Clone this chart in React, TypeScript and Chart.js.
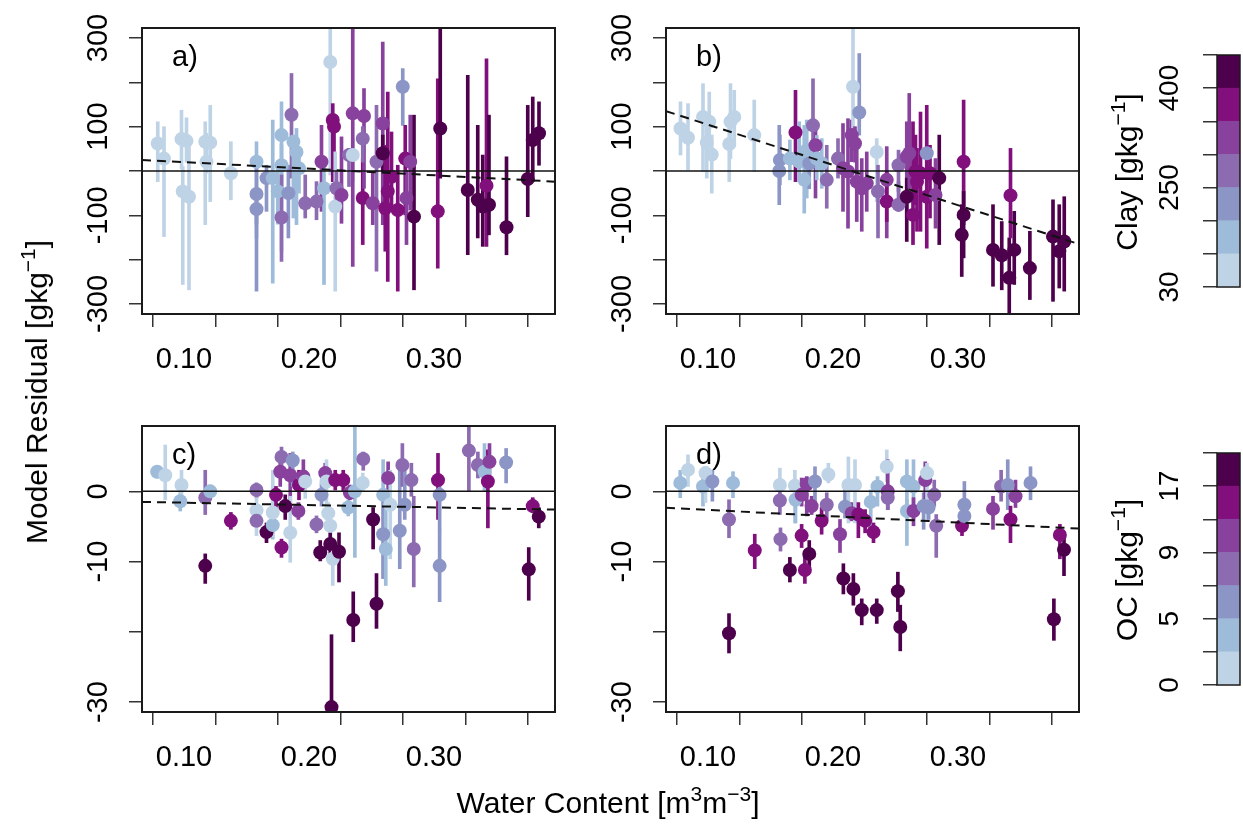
import React, { useEffect, useRef } from "react";
import { Chart, registerables } from "chart.js";
Chart.register(...registerables);

const FONT = "'Liberation Sans', Arial, Helvetica, sans-serif";
const BIN_COLORS = ["#bfd3e6", "#9ebcda", "#8c96c6", "#8c6bb1", "#88419d", "#810f7c", "#4d004b"];
const BIN_WIDTHS = [1, 1, 1, 1, 1, 1, 1];
const BAR_TICKS = [0, 1, 2, 3, 4, 5, 6, 7];
const CLAY_BAR_TICK_LABELS = ["30", "", "", "250", "", "", "400", ""];
const OC_BAR_TICK_LABELS = ["0", "", "5", "", "9", "", "17", ""];

const X_MIN = 0.0664;
const X_MAX = 0.3968;
const X_TICKS = [0.1, 0.15, 0.2, 0.25, 0.3, 0.35];
const X_TICK_LABELS = ["0.10", "", "0.20", "", "0.30", ""];

const CLAY_Y_RANGE = [-322.6, 322.6];
const CLAY_Y_TICKS = [-300, -200, -100, 0, 100, 200, 300];
const CLAY_Y_TICK_LABELS = ["-300", "", "-100", "", "100", "", "300"];
const OC_Y_RANGE = [-31.4, 9.3];
const OC_Y_TICKS = [-30, -20, -10, 0];
const OC_Y_TICK_LABELS = ["-30", "", "-10", "0"];

// Panel a) residuals vs water content, coloured by clay
const aWater = [0.079,0.084,0.098,0.099,0.102,0.104,0.117,0.118,0.121,0.1375, 0.158,0.158,0.158,0.166,0.171,0.175,0.178,0.178,0.178,0.1835, 0.186,0.1875,0.190,0.192,0.197,0.206,0.210,0.212,0.217,0.219, 0.220,0.221,0.222,0.226,0.232,0.235,0.235,0.243,0.244,0.243, 0.251,0.254,0.259,0.259,0.261,0.263,0.266,0.271,0.275,0.277, 0.278,0.281,0.284,0.303,0.305,0.327,0.335,0.339,0.342,0.344, 0.358,0.375,0.379,0.384];
const aResid = [62,28,72,-46,68,-58,66,21,64,-5, 21,-52,-86,-16,-16,-46,81,13,-105,-50, 127,66,43,6,-73,-69,21,-39,246,115, 100,-80,-39,-54,36,36,130,-61,124,73, -73,21,107,40,-84,-46,-13,-88,190,28, -61,21,-103,-91,96,-43,-65,-80,-33,-76, -127,-18,70,85];
const aLow = [-24,-148,5,-256,20,-268,-121,-5,-69,-65, -151,-120,-271,-91,-253,-120,-181,-60,-204,-151, -16,-106,-121,-50,-106,-110,-91,-256,-9,-24, 40,-271,-80,-118,-35,-24,-215,-166,-39,20, -121,-226,-121,-1,-181,-249,-91,-271,103,-99, -166,-88,-268,-219,-16,-189,-151,-170,-170,-144, -189,-103,-24,13];
const aHigh = [111,100,137,10,120,60,111,85,148,66, 66,10,-40,13,115,20,156,60,-9,13, 220,81,96,50,-9,-24,103,28,321,152, 120,43,0,77,51,73,321,28,186,100, -1,148,291,81,58,178,88,13,231,103, 2,126,126,208,321,216,103,36,253,126, 32,148,167,156];
const aBin = [0,0,0,0,0,0,0,0,0,0, 1,2,2,2,1,1,1,1,3,2, 3,1,1,1,3,3,4,1,0,5, 5,0,3,4,3,0,4,5,4,3, 4,3,4,6,5,5,5,5,2,5, 4,4,6,5,6,6,6,6,5,6, 6,6,6,6];
const aFit = [25, -24];

// Panel b)
const bWater = [0.078,0.084,0.096,0.099,0.101,0.103,0.117,0.118,0.121,0.137, 0.157,0.1575,0.1655,0.170,0.173,0.177,0.179,0.181,0.184,0.186, 0.187,0.191,0.195,0.204,0.208,0.212,0.215,0.216,0.2176,0.219, 0.221,0.223,0.227,0.235,0.236,0.243,0.243,0.2524,0.2524,0.259, 0.259,0.261,0.264,0.266,0.2672,0.270,0.275,0.275,0.2776,0.282, 0.285,0.3045,0.3045,0.303,0.328,0.335,0.341,0.342,0.345,0.3575, 0.376,0.381,0.385];
const bResid = [96,75,122,64,111,37,61,111,122,81, 0,25,28,87,21,-20,47,17,103,58, 28,17,-20,28,6,-1,81,190,62,-24, 132,-39,-28,43,-46,-20,-69,13,-76,32, -58,40,-99,-1,-24,-5,40,-58,-5,-54, -16,21,-99,-144,-178,-190,-241,-55,-178,-219, -148,-181,-159];
const bLow = [36,2,-1,-16,40,-50,-24,28,58,-1, -76,-31,-20,-24,-24,-95,-61,-40,13,-61, -20,-39,-84,-16,-91,-129,21,73,20,-114, 81,-136,-91,-69,-151,-151,-114,-46,-91,-106, -159,-39,-166,-76,-136,-136,-24,-174,-106,-129, -166,-121,-196,-238,-260,-268,-320,-151,-256,-290, -294,-264,-271];
const bHigh = [156,152,197,111,178,81,126,197,182,160, 103,81,70,182,111,103,115,60,208,103, 80,73,58,73,107,118,115,321,100,51, 265,28,43,73,13,55,-1,47,-24,111, -16,175,111,81,51,133,58,148,58,28, 81,160,-46,-76,-76,-114,-151,51,-91,-136, -65,-76,-58];
const bBin = [0,0,0,0,0,0,0,0,0,0, 2,2,1,5,1,1,1,2,3,4, 1,1,3,3,4,4,4,0,4,4, 2,4,4,0,3,4,5,3,3,4, 6,4,5,5,5,5,2,5,5,4, 6,5,6,6,6,6,6,5,6,6, 6,6,6];
const bFit = [135, -165];

// Panel c) coloured by OC
const cWater = [0.0785,0.085,0.097,0.098,0.117,0.117,0.121,0.1375,0.158,0.158, 0.158,0.166,0.171,0.171,0.1736,0.177,0.178,0.178,0.181,0.185, 0.185,0.187,0.1915,0.192,0.1955,0.197,0.206,0.209,0.210,0.213, 0.214,0.2154,0.217,0.217,0.218,0.219,0.221,0.224,0.2274,0.2314, 0.2327,0.2354,0.2367,0.243,0.2434,0.2513,0.254,0.2593,0.2593,0.2614, 0.2633,0.265,0.2726,0.2747,0.2766,0.2819,0.2838,0.3032,0.3045,0.3045, 0.3279,0.3351,0.3404,0.3431,0.3444,0.3577,0.379,0.3838,0.3758];
const cResid = [2.8,2.3,-1.4,0.9,-0.9,-10.6,0,-4.2,0.2,-2.7, -4.2,-5.8,-4.8,-3.0,-0.5,2.8,4.9,-8.0,-2.1,2.3, -5.9,4.4,-2.8,0.9,2.1,1.4,-4.7,-8.7,-0.5,2.6, 1.4,-3.1,-4.9,-7.5,-30.7,-9.6,1.6,-8.6,1.6,-2.3, -0.2,-18.3,0,1.2,4.6,-4.0,-16.0,-0.5,-6.1,-8.2, 1.9,-1.9,-5.6,3.75,-1.9,1.6,-8.2,1.6,-0.5,-10.6, 5.8,3.75,2.8,1.4,4.2,4.1,-2.1,-3.6,-11.1];
const cLow = [1.9,-1.2,-2.8,-1.4,-3.3,-13.1,-1.2,-5.4,-0.9,-6.3, -5.0,-7.3,-6.8,-6.5,-3.5,0.7,3.0,-9.4,-4.0,-1.6, -10.1,0.7,-4.0,-1.2,0,-1.0,-5.9,-9.9,-2.1,0.7, -4.0,-4.5,-6.8,-9.2,-31.2,-13.4,0.2,-12.9,0,-3.5, -1.2,-21.4,-9.4,0,3.0,-8.2,-19.5,-12.4,-12.4,-13.4, -1.2,-9.6,-11.0,0.7,-4.0,-0.7,-13.6,-4.0,-5.4,-15.7, 0,1.9,0,-5.2,1.6,1.2,-3.0,-5.2,-15.5];
const cHigh = [3.5,6.6,-0.2,3.0,3.0,-8.9,0.9,-3.0,1.2,-0.9, -2.8,-4.5,0.7,3.0,0.7,4.5,6.3,-6.8,-0.5,5.4, -0.7,5.6,-1.6,3.0,4.5,3.0,-3.5,-7.0,1.2,4.0, 4.5,-1.6,-3.0,-5.9,-20.4,-7.7,3.0,-5.9,3.0,-1.2, 0.9,-14.3,9.4,2.6,5.6,-2.3,-11.7,4.5,0.2,-1.2, 4.2,3.0,3.0,6.8,4.0,4.0,-0.7,5.4,1.2,-5.4, 9.4,5.6,6.8,5.9,6.8,6.1,-0.9,-2.3,-8.0];
const cBin = [1,0,1,0,3,6,1,5,3,0, 3,6,1,0,5,4,3,5,6,4, 0,2,4,5,4,0,3,6,2,4, 0,0,0,6,6,0,5,6,5,1, 4,6,1,0,3,6,6,1,2,1, 4,0,2,3,2,3,3,5,2,2, 3,3,1,5,4,2,5,6,6];
const cFit = [-1.5, -2.6];

// Panel d)
const dWater = [0.0778,0.084,0.096,0.098,0.1035,0.1168,0.1168,0.120,0.1374,0.1575, 0.1575,0.158,0.1655,0.1695,0.170,0.1749,0.1749,0.1775,0.179,0.181, 0.1829,0.1856,0.1909,0.195,0.1963,0.2056,0.2083,0.2096,0.2123,0.215, 0.2163,0.2176,0.2203,0.223,0.2257,0.2302,0.2324,0.235,0.2356,0.243, 0.2438,0.2438,0.2519,0.2538,0.2591,0.2591,0.2644,0.2644,0.2725,0.2738, 0.2752,0.2765,0.281,0.2826,0.3032,0.3051,0.3051,0.328,0.3345,0.3398, 0.342,0.346,0.358,0.3767,0.3815,0.3848];
const dResid = [1.2,3.05,0.7,2.6,1.4,-4.0,-20.2,1.2,-8.4,0.9, -1.3,-6.8,-11.2,0.8,-1.2,-0.5,-6.3,-11.2,1.0,-8.9, -2.1,1.4,-4.2,-1.9,2.4,-6.1,-12.4,-2.2,0.9,-3.1, -13.9,0.9,-3.3,-16.9,-4.2,-1.5,-5.8,-16.9,0.7,3.5, 0,-0.9,-14.2,-19.3,1.4,-2.8,0.7,-2.8,-2.1,1.6, 2.6,-2.3,-0.5,-4.9,-4.9,-3.5,-1.9,-2.5,0.7,0.9, -4.0,-0.7,1.2,-18.2,-6.2,-8.3];
const dLow = [-0.9,0.7,-2.1,-1.6,-1.4,-6.6,-23.0,-0.9,-11.0,-1.2, -3.3,-8.5,-12.9,-4.5,-4.5,-2.1,-8.0,-13.1,-3.5,-11.5, -3.3,-2.1,-6.1,-4.0,1.2,-8.7,-14.6,-3.8,-4.5,-4.2, -16.2,-4.5,-6.6,-19.0,-5.9,-5.4,-7.3,-18.8,-2.1,1.4, -2.6,-2.6,-17.1,-22.7,-2.1,-7.7,-4.0,-4.9,-5.4,-2.3, -4.0,-4.0,-2.1,-9.4,-6.3,-5.4,-3.8,-5.4,-1.4,-2.6, -7.3,-2.3,-1.2,-21.2,-9.6,-12.0];
const dHigh = [3.0,5.2,3.0,3.5,3.0,-1.2,-17.4,2.8,-6.1,3.3, 0.5,-5.2,-9.4,3.0,1.6,1.9,-4.7,-9.4,2.1,-7.0, -0.7,3.5,-2.3,-0.2,4.0,-4.0,-10.3,0.7,4.9,-1.6, -11.7,4.5,-1.6,-15.3,-2.6,0.2,-4.5,-15.3,2.1,5.9, 4.5,0.7,-11.5,-16.2,4.5,-1.2,4.5,-0.9,-0.2,4.2, 4.0,-1.2,1.6,-3.3,-3.5,-1.6,1.4,-0.7,3.0,4.5, -2.1,1.6,3.5,-15.3,-4.7,-6.3];
const dBin = [1,0,1,0,2,3,6,1,5,0, 3,3,6,0,1,4,5,5,4,6, 4,2,5,3,0,4,6,2,0,4, 6,0,5,6,5,1,5,6,1,0, 4,3,6,6,1,1,1,4,2,4, 0,2,3,3,5,2,2,4,3,2, 5,4,2,6,5,6];
const dFit = [-2.35, -5.3];

type PanelProps = {
  left: number; top: number; label: string;
  water: number[]; resid: number[]; low: number[]; high: number[]; bin: number[]; fit: number[];
  yRange: number[]; yTicks: number[]; yTickLabels: string[];
};

function Panel(p: PanelProps) {
  const ref = useRef<HTMLCanvasElement>(null);
  useEffect(() => {
    if (!ref.current) return;
    const colors = p.bin.map((b) => BIN_COLORS[b]);
    const deco = {
      id: "deco",
      afterDraw(chart: any) {
        const { ctx, chartArea: a } = chart;
        ctx.save();
        ctx.strokeStyle = "#1a1a1a";
        ctx.lineWidth = 2;
        ctx.strokeRect(a.left, a.top, a.right - a.left, a.bottom - a.top);
        ctx.fillStyle = "#000";
        ctx.font = `29px ${FONT}`;
        ctx.textAlign = "left";
        ctx.textBaseline = "middle";
        ctx.fillText(p.label, a.left + 30, a.top + 30);
        const ys = chart.scales.y;
        p.yTicks.forEach((v, i) => {
          const lab = p.yTickLabels[i];
          if (!lab) return;
          const py = ys.getPixelForValue(v);
          ctx.save();
          ctx.translate(a.left - 43, py);
          ctx.rotate(-Math.PI / 2);
          ctx.textAlign = "center";
          ctx.textBaseline = "middle";
          ctx.fillText(lab, 0, 0);
          ctx.restore();
        });
        ctx.restore();
      },
    };
    const grid = { drawOnChartArea: false, drawTicks: true, tickLength: 13, color: "#333", lineWidth: 1.5 };
    const chart = new Chart(ref.current, {
      type: "scatter",
      data: {
        datasets: [
          { type: "line", data: [{ x: X_MIN, y: 0 }, { x: X_MAX, y: 0 }], borderColor: "#111", borderWidth: 1.5, pointRadius: 0, order: 0, clip: 0 } as any,
          { type: "line", data: [{ x: X_MIN, y: p.fit[0] }, { x: X_MAX, y: p.fit[1] }], borderColor: "#111", borderWidth: 2, borderDash: [9, 6], pointRadius: 0, order: 0, clip: 0 } as any,
          { type: "scatter", data: p.water.map((x, i) => ({ x, y: p.resid[i] })), pointRadius: 7, pointBackgroundColor: colors, pointBorderColor: colors, pointBorderWidth: 0, order: 1, clip: 0 } as any,
          { type: "bar", data: p.water.map((x, i) => ({ x, y: [p.low[i], p.high[i]] })), backgroundColor: colors, barThickness: 3, borderWidth: 0, order: 2, clip: 0 } as any,
        ],
      },
      options: {
        responsive: false,
        animation: false,
        events: [],
        devicePixelRatio: 1,
        layout: { padding: { left: 0, right: 45, top: 28, bottom: 0 } },
        plugins: { legend: { display: false }, tooltip: { enabled: false } },
        scales: {
          x: {
            type: "linear", min: X_MIN, max: X_MAX, offset: false,
            afterBuildTicks: (s: any) => { s.ticks = X_TICKS.map((v) => ({ value: v })); },
            afterFit: (s: any) => { s.height = 86; },
            ticks: { autoSkip: false, maxRotation: 0, minRotation: 0, padding: 16, color: "#000", font: { family: FONT, size: 29 }, callback: (_v: any, i: number) => X_TICK_LABELS[i] ?? "" },
            grid, border: { display: false },
          },
          y: {
            type: "linear", min: p.yRange[0], max: p.yRange[1],
            afterBuildTicks: (s: any) => { s.ticks = p.yTicks.map((v) => ({ value: v })); },
            afterFit: (s: any) => { s.width = 142; },
            ticks: { display: false },
            grid, border: { display: false },
          },
        },
      } as any,
      plugins: [deco],
    });
    return () => chart.destroy();
  }, []);
  return <canvas ref={ref} width={600} height={400} style={{ position: "absolute", left: p.left, top: p.top, width: 600, height: 400 }} />;
}

function ColorBar({ top, tickLabels }: { top: number; tickLabels: string[] }) {
  const ref = useRef<HTMLCanvasElement>(null);
  useEffect(() => {
    if (!ref.current) return;
    const deco = {
      id: "deco",
      afterDraw(chart: any) {
        const { ctx, chartArea: a } = chart;
        ctx.save();
        ctx.strokeStyle = "#1a1a1a";
        ctx.lineWidth = 1.5;
        ctx.strokeRect(a.left, a.top, a.right - a.left, a.bottom - a.top);
        ctx.fillStyle = "#000";
        ctx.font = `28px ${FONT}`;
        const ys = chart.scales.y;
        BAR_TICKS.forEach((v, i) => {
          const lab = tickLabels[i];
          if (!lab) return;
          const py = ys.getPixelForValue(v);
          ctx.save();
          ctx.translate(a.left - 47, py);
          ctx.rotate(-Math.PI / 2);
          ctx.textAlign = "center";
          ctx.textBaseline = "middle";
          ctx.fillText(lab, 0, 0);
          ctx.restore();
        });
        ctx.restore();
      },
    };
    const chart = new Chart(ref.current, {
      type: "bar",
      data: {
        labels: [""],
        datasets: BIN_COLORS.map((c, i) => ({ data: [BIN_WIDTHS[i]], backgroundColor: c, borderWidth: 0, barPercentage: 1, categoryPercentage: 1 })),
      },
      options: {
        responsive: false,
        animation: false,
        events: [],
        devicePixelRatio: 1,
        layout: { padding: { left: 0, right: 3, top: 55, bottom: 113 } },
        plugins: { legend: { display: false }, tooltip: { enabled: false } },
        scales: {
          x: { display: false, stacked: true },
          y: {
            stacked: true, min: 0, max: 7,
            afterBuildTicks: (s: any) => { s.ticks = BAR_TICKS.map((v) => ({ value: v })); },
            afterFit: (s: any) => { s.width = 117; },
            ticks: { display: false },
            grid: { drawOnChartArea: false, drawTicks: true, tickLength: 14, color: "#333", lineWidth: 1.5 },
            border: { display: false },
          },
        },
      } as any,
      plugins: [deco],
    });
    return () => chart.destroy();
  }, []);
  return <canvas ref={ref} width={143} height={400} style={{ position: "absolute", left: 1100, top, width: 143, height: 400 }} />;
}

const sup: React.CSSProperties = { fontSize: "0.7em", position: "relative", top: "-0.55em" };

function RotTitle({ x, y, children }: { x: number; y: number; children: React.ReactNode }) {
  return (
    <div style={{ position: "absolute", left: x, top: y, transform: "translate(-50%, -50%) rotate(-90deg)", whiteSpace: "nowrap", fontFamily: FONT, fontSize: 30, lineHeight: 1, color: "#000" }}>
      {children}
    </div>
  );
}

export default function App() {
  return (
    <div style={{ position: "absolute", left: 0, top: 0, width: 1243, height: 827, background: "#fff", overflow: "hidden" }}>
      <Panel left={0} top={0} label="a)" water={aWater} resid={aResid} low={aLow} high={aHigh} bin={aBin} fit={aFit} yRange={CLAY_Y_RANGE} yTicks={CLAY_Y_TICKS} yTickLabels={CLAY_Y_TICK_LABELS} />
      <Panel left={524} top={0} label="b)" water={bWater} resid={bResid} low={bLow} high={bHigh} bin={bBin} fit={bFit} yRange={CLAY_Y_RANGE} yTicks={CLAY_Y_TICKS} yTickLabels={CLAY_Y_TICK_LABELS} />
      <Panel left={0} top={398} label="c)" water={cWater} resid={cResid} low={cLow} high={cHigh} bin={cBin} fit={cFit} yRange={OC_Y_RANGE} yTicks={OC_Y_TICKS} yTickLabels={OC_Y_TICK_LABELS} />
      <Panel left={524} top={398} label="d)" water={dWater} resid={dResid} low={dLow} high={dHigh} bin={dBin} fit={dFit} yRange={OC_Y_RANGE} yTicks={OC_Y_TICKS} yTickLabels={OC_Y_TICK_LABELS} />
      <ColorBar top={0} tickLabels={CLAY_BAR_TICK_LABELS} />
      <ColorBar top={398} tickLabels={OC_BAR_TICK_LABELS} />
      <RotTitle x={37} y={392}>Model Residual [gkg<span style={sup}>−1</span>]</RotTitle>
      <RotTitle x={1127} y={172}>Clay [gkg<span style={sup}>−1</span>]</RotTitle>
      <RotTitle x={1127} y={570}>OC [gkg<span style={sup}>−1</span>]</RotTitle>
      <div style={{ position: "absolute", left: 608, top: 803, transform: "translate(-50%, -50%)", whiteSpace: "nowrap", fontFamily: FONT, fontSize: 30, lineHeight: 1, color: "#000" }}>
        Water Content [m<span style={sup}>3</span>m<span style={sup}>−3</span>]
      </div>
    </div>
  );
}
